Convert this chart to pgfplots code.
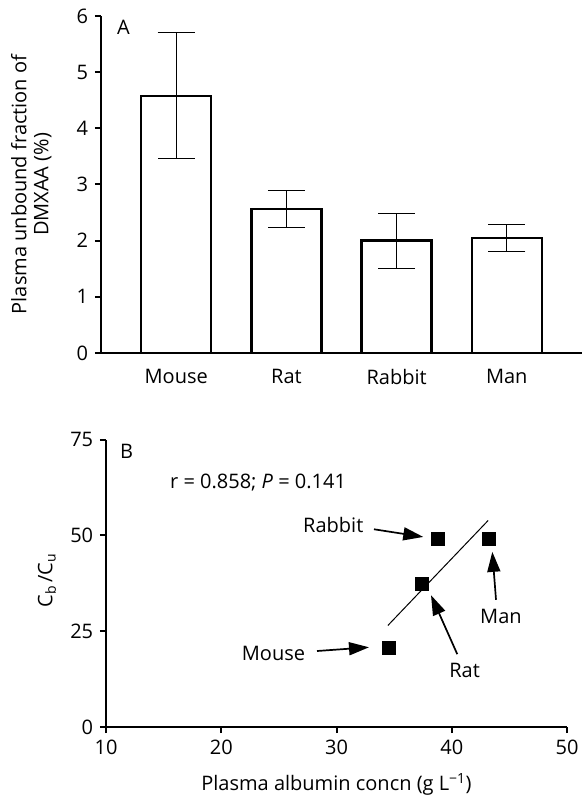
\documentclass[border=0pt]{standalone}
\usepackage{fontspec}
\setmainfont{Open Sans}
\usepackage{pgfplots}
\pgfplotsset{compat=1.18}
\usetikzlibrary{arrows.meta}
\begin{document}
\fontsize{20}{22}\selectfont
\begin{tikzpicture}
\path[use as bounding box] (0pt,0pt) rectangle (582pt,795pt);
% ---------- Panel A ----------
\begin{axis}[at={(101pt,442pt)}, anchor=south west, scale only axis,
  width=481pt, height=337pt,
  xmin=-0.683, xmax=3.683, ymin=0, ymax=6,
  axis lines=left, axis line style={-, line width=2pt},
  /pgf/number format/assume math mode=true,
  ytick={0,1,2,3,4,5,6},
  xtick={0,1,2,3}, xticklabels={Mouse,Rat,Rabbit,Man},
  x tick style={draw=none},
  y tick style={line width=2pt, black},
  tick align=outside, major tick length=6pt,
  xticklabel style={yshift=-3pt},
  ylabel={Plasma unbound fraction of\\DMXAA (\%)},
  every axis y label/.style={at={(axis description cs:-0.145,0.5)}, rotate=90, anchor=center, align=center},
  clip=false]
\addplot[ybar, bar width=70pt, fill=white, draw=black, line width=2.5pt,
  error bars/.cd, y dir=both, y explicit,
  error bar style={line width=1pt},
  error mark options={rotate=90, mark size=18.5pt, line width=1pt}]
  coordinates {(0,4.58) +- (0,1.12) (1,2.56) +- (0,0.33) (2,2.00) +- (0,0.49) (3,2.05) +- (0,0.24)};
\node[anchor=north west, inner sep=0pt] at (rel axis cs:0.033,0.988) {A};
\end{axis}
% ---------- Panel B ----------
\begin{axis}[at={(106pt,68pt)}, anchor=south west, scale only axis,
  width=461pt, height=287.4pt,
  xmin=10, xmax=50, ymin=0, ymax=75,
  axis lines=left, axis line style={-, line width=2pt},
  /pgf/number format/assume math mode=true,
  xtick={10,20,30,40,50}, ytick={0,25,50,75},
  tick style={line width=2pt, black},
  tick align=outside, major tick length=6pt,
  xlabel={Plasma albumin concn (g L\textsuperscript{−1})},
  ylabel={C\textsubscript{b}\,/C\textsubscript{u}},
  every axis y label/.style={at={(axis description cs:-0.128,0.51)}, rotate=90, anchor=center},
  every axis x label/.style={at={(axis description cs:0.5,-0.2)}, anchor=center},
  clip=false]
\addplot[black, line width=1pt] coordinates {(34.46,26.5) (43.16,53.9)};
\addplot[only marks, mark=square*, mark size=6.5pt, black] coordinates {(34.55,20.7) (37.4,37.4) (38.8,49.1) (43.2,49.1)};
\node[anchor=north west, inner sep=0pt] at (rel axis cs:0.030,0.986) {B};
\node[anchor=west, inner sep=0pt] at (axis cs:15.55,63.9) {r = 0.858; \textit{P} = 0.141};
\node at (axis cs:24.53,19.2) {Mouse};
\node at (axis cs:29.72,52.6) {Rabbit};
\node at (axis cs:44.27,28.9) {Man};
\node at (axis cs:41.12,14.8) {Rat};
\begin{scope}[line width=1.7pt, -{Triangle[length=20pt,width=13pt]}]
\draw (axis cs:28.31,19.83) -- (axis cs:32.82,20.8);
\draw (axis cs:33.25,51.6) -- (axis cs:37.53,49.6);
\draw (axis cs:43.84,33.2) -- (axis cs:43.52,45.7);
\draw (axis cs:40.48,19.0) -- (axis cs:38.2,34.4);
\end{scope}
\end{axis}
\end{tikzpicture}
\end{document}
